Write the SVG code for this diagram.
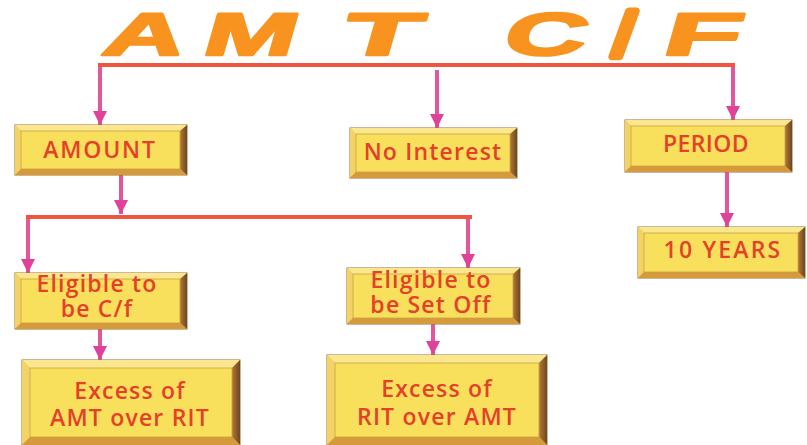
<svg xmlns="http://www.w3.org/2000/svg" width="807" height="445" viewBox="0 0 807 445">
  <style>
    .title { font-family: "Liberation Sans", Arial, sans-serif; font-weight: bold; font-size: 60px; fill: #f7931e; stroke: #f7931e; stroke-width: 2.5; stroke-linejoin: round; }
    .lbl { font-family: "Open Sans", "Liberation Sans", sans-serif; font-weight: 600; font-size: 23px; fill: #e4402a; text-anchor: middle; letter-spacing: 1.2px; }
    .rim { fill: #e3b64a; stroke: #9b7034; stroke-width: 1; }
    .bt { fill: #fbe88e; }
    .bl { fill: #f3d366; }
    .br { fill: url(#rightBevel); }
    .bb { fill: #d49a3c; }
    .face { fill: #f8e05c; stroke: #caa043; stroke-width: 0.8; }
    .bar { stroke: #f0553f; stroke-width: 4; fill: none; }
    .drop { stroke: #e4569c; stroke-width: 4; fill: none; marker-end: url(#head); }
  </style>
  <defs>
    <linearGradient id="rightBevel" x1="0" y1="0" x2="1" y2="0">
      <stop offset="0" stop-color="#b07a34"/>
      <stop offset="1" stop-color="#6e4524"/>
    </linearGradient>
    <marker id="head" viewBox="0 0 10 10" refX="10" refY="5" markerWidth="3.6" markerHeight="3.6" orient="auto" markerUnits="strokeWidth">
      <path d="M0,0 L10,5 L0,10 Z" fill="#e0429a"/>
    </marker>
  </defs>
  <rect width="807" height="445" fill="#ffffff"/>

  <!-- heading: wide, slanted letters -->
  <g id="heading">
    <text class="title" transform="translate(100,55) skewX(-16)" textLength="80" lengthAdjust="spacingAndGlyphs">A</text>
    <text class="title" transform="translate(200,55) skewX(-16)" textLength="92" lengthAdjust="spacingAndGlyphs">M</text>
    <text class="title" transform="translate(338,55) skewX(-16)" textLength="78" lengthAdjust="spacingAndGlyphs">T</text>
    <text class="title" transform="translate(500,55) skewX(-16)" textLength="82" lengthAdjust="spacingAndGlyphs">C</text>
    <text class="title" transform="translate(612,55) skewX(-10)" style="stroke-width:8">/</text>
    <text class="title" transform="translate(660,55) skewX(-16)" textLength="76" lengthAdjust="spacingAndGlyphs">F</text>
  </g>

  <!-- connectors -->
  <g id="connectors">
    <path class="bar" d="M98,65 H735"/>
    <path class="drop" d="M100,67 V125"/>
    <path class="drop" d="M437,70 V128"/>
    <path class="drop" d="M733,67 V120"/>
    <path class="drop" d="M121,175 V214"/>
    <path class="bar" d="M26,217 H472"/>
    <path class="drop" d="M28,219 V273"/>
    <path class="drop" d="M468,219 V268"/>
    <path class="drop" d="M100,329 V360"/>
    <path class="drop" d="M433,324 V355"/>
    <path class="drop" d="M727,172 V227"/>
  </g>

  <!-- AMOUNT -->
  <g id="amount">
    <rect class="rim" x="15" y="125" width="172" height="50"/>
    <polygon class="bt" points="15,125 187,125 180,131 21,131"/>
    <polygon class="bl" points="15,125 21,131 21,169 15,175"/>
    <polygon class="br" points="187,125 187,175 180,169 180,131"/>
    <polygon class="bb" points="15,175 187,175 180,169 21,169"/>
    <rect class="face" x="21" y="131" width="159" height="38"/>
    <text class="lbl" x="100" y="158" style="letter-spacing:1.8px">AMOUNT</text>
  </g>

  <!-- No Interest -->
  <g id="no-interest">
    <rect class="rim" x="350" y="128" width="167" height="50"/>
    <polygon class="bt" points="350,128 517,128 510,134 356,134"/>
    <polygon class="bl" points="350,128 356,134 356,172 350,178"/>
    <polygon class="br" points="517,128 517,178 510,172 510,134"/>
    <polygon class="bb" points="350,178 517,178 510,172 356,172"/>
    <rect class="face" x="356" y="134" width="154" height="38"/>
    <text class="lbl" x="433" y="160">No Interest</text>
  </g>

  <!-- PERIOD -->
  <g id="period">
    <rect class="rim" x="625" y="120" width="167" height="52"/>
    <polygon class="bt" points="625,120 792,120 785,126 631,126"/>
    <polygon class="bl" points="625,120 631,126 631,166 625,172"/>
    <polygon class="br" points="792,120 792,172 785,166 785,126"/>
    <polygon class="bb" points="625,172 792,172 785,166 631,166"/>
    <rect class="face" x="631" y="126" width="154" height="40"/>
    <text class="lbl" x="706" y="152" style="letter-spacing:0.4px">PERIOD</text>
  </g>

  <!-- 10 YEARS -->
  <g id="ten-years">
    <rect class="rim" x="638" y="227" width="167" height="51"/>
    <polygon class="bt" points="638,227 805,227 798,233 644,233"/>
    <polygon class="bl" points="638,227 644,233 644,272 638,278"/>
    <polygon class="br" points="805,227 805,278 798,272 798,233"/>
    <polygon class="bb" points="638,278 805,278 798,272 644,272"/>
    <rect class="face" x="644" y="233" width="154" height="39"/>
    <text class="lbl" x="723" y="258" style="letter-spacing:2.2px">10 YEARS</text>
  </g>

  <!-- Eligible to be C/f -->
  <g id="eligible-cf">
    <rect class="rim" x="15" y="273" width="172" height="56"/>
    <polygon class="bt" points="15,273 187,273 180,279 21,279"/>
    <polygon class="bl" points="15,273 21,279 21,323 15,329"/>
    <polygon class="br" points="187,273 187,329 180,323 180,279"/>
    <polygon class="bb" points="15,329 187,329 180,323 21,323"/>
    <rect class="face" x="21" y="279" width="159" height="44"/>
    <text class="lbl" x="97" y="292">Eligible to</text>
    <text class="lbl" x="97" y="317">be C/f</text>
  </g>

  <!-- Eligible to be Set Off -->
  <g id="eligible-setoff">
    <rect class="rim" x="347" y="268" width="173" height="56"/>
    <polygon class="bt" points="347,268 520,268 513,274 353,274"/>
    <polygon class="bl" points="347,268 353,274 353,318 347,324"/>
    <polygon class="br" points="520,268 520,324 513,318 513,274"/>
    <polygon class="bb" points="347,324 520,324 513,318 353,318"/>
    <rect class="face" x="353" y="274" width="160" height="44"/>
    <text class="lbl" x="431" y="288">Eligible to</text>
    <text class="lbl" x="431" y="313">be Set Off</text>
  </g>

  <!-- Excess of AMT over RIT -->
  <g id="excess-amt">
    <rect class="rim" x="22" y="360" width="218" height="85"/>
    <polygon class="bt" points="22,360 240,360 232,368 30,368"/>
    <polygon class="bl" points="22,360 30,368 30,437 22,445"/>
    <polygon class="br" points="240,360 240,445 232,437 232,368"/>
    <polygon class="bb" points="22,445 240,445 232,437 30,437"/>
    <rect class="face" x="30" y="368" width="202" height="69"/>
    <text class="lbl" x="130" y="399">Excess of</text>
    <text class="lbl" x="130" y="426">AMT over RIT</text>
  </g>

  <!-- Excess of RIT over AMT -->
  <g id="excess-rit">
    <rect class="rim" x="327" y="355" width="220" height="90"/>
    <polygon class="bt" points="327,355 547,355 539,363 335,363"/>
    <polygon class="bl" points="327,355 335,363 335,437 327,445"/>
    <polygon class="br" points="547,355 547,445 539,437 539,363"/>
    <polygon class="bb" points="327,445 547,445 539,437 335,437"/>
    <rect class="face" x="335" y="363" width="204" height="74"/>
    <text class="lbl" x="437" y="397">Excess of</text>
    <text class="lbl" x="437" y="425">RIT over AMT</text>
  </g>
</svg>
